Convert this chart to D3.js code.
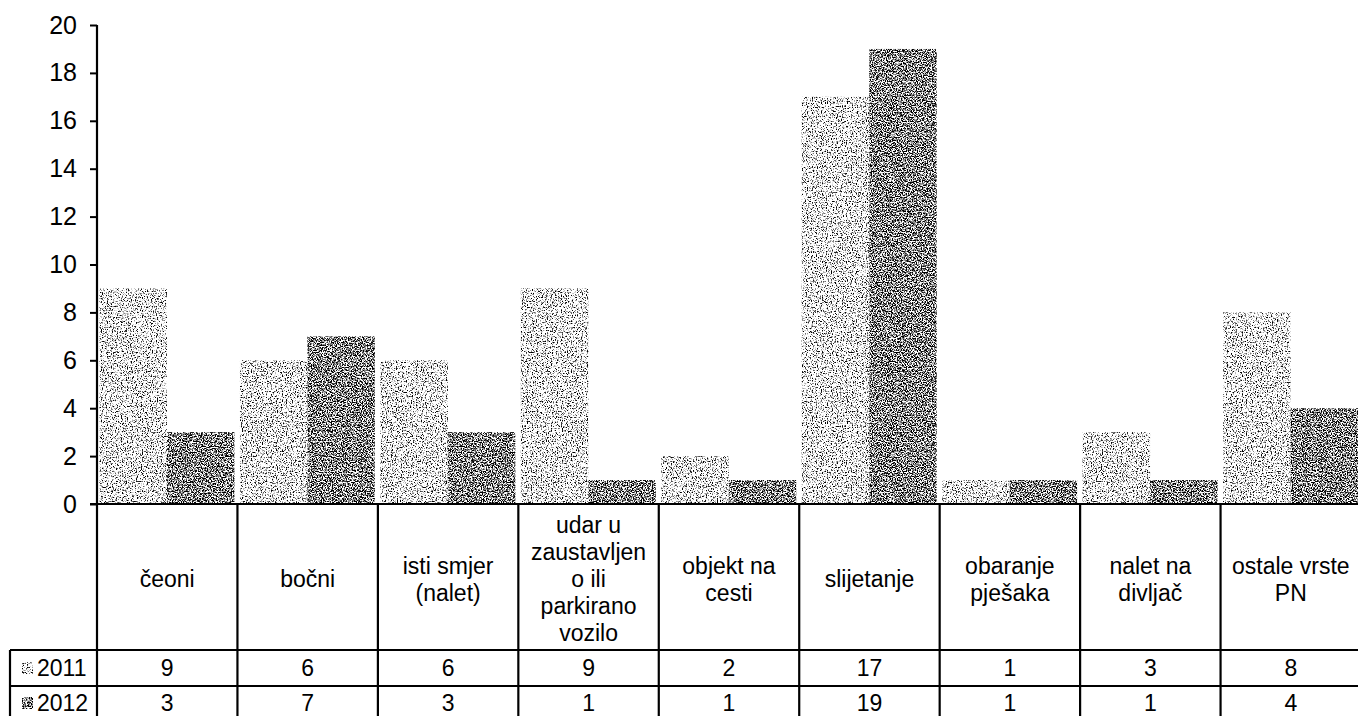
<!DOCTYPE html>
<html>
<head>
<meta charset="utf-8">
<script src="https://cdn.jsdelivr.net/npm/d3@7"></script>
<style>
  html, body { margin: 0; padding: 0; background: #fff; }
  svg { display: block; font-family: "Liberation Sans", Arial, sans-serif; }
</style>
</head>
<body>
<svg id="chart" width="1358" height="716"></svg>
<script>
// ---- data ----
const categories = [
  ["čeoni"],
  ["bočni"],
  ["isti smjer", "(nalet)"],
  ["udar u", "zaustavljen", "o ili", "parkirano", "vozilo"],
  ["objekt na", "cesti"],
  ["slijetanje"],
  ["obaranje", "pješaka"],
  ["nalet na", "divljač"],
  ["ostale vrste", "PN"]
];
const seriesNames = ["2011", "2012"];
const values2011 = [9, 6, 6, 9, 2, 17, 1, 3, 8];
const values2012 = [3, 7, 3, 1, 1, 19, 1, 1, 4];
const yTicks = [0, 2, 4, 6, 8, 10, 12, 14, 16, 18, 20];

(function () {
const series = [values2011, values2012];
const catKeys = categories.map((c, i) => "c" + i);

// ---- layout ----
const svg = d3.select("#chart");
const plotLeft = 97, plotRight = 1361, plotTop = 25, zeroY = 504;
const row1 = 650, row2 = 686, plotBottom = 722, legendLeft = 10;

const x0 = d3.scaleBand().domain(catKeys).range([plotLeft, plotRight]).padding(0);
const bw = x0.bandwidth();
const x1 = d3.scaleBand().domain(seriesNames).range([2.5, bw - 3]).padding(0);
const y = d3.scaleLinear().domain([0, 20]).range([zeroY, plotTop]);

// ---- speckle textures ----
const defs = svg.append("defs");
function speckle(id, gain, offset, seed) {
  const f = defs.append("filter").attr("id", id)
    .attr("x", 0).attr("y", 0).attr("width", "100%").attr("height", "100%")
    .attr("color-interpolation-filters", "sRGB");
  f.append("feTurbulence").attr("type", "fractalNoise")
    .attr("baseFrequency", 0.8).attr("numOctaves", 2).attr("seed", seed).attr("result", "n");
  const m = `${gain} 0 0 0 ${offset}  ${gain} 0 0 0 ${offset}  ${gain} 0 0 0 ${offset}  0 0 0 0 1`;
  f.append("feColorMatrix").attr("in", "n").attr("type", "matrix").attr("values", m).attr("result", "g");
  f.append("feComposite").attr("in", "g").attr("in2", "SourceGraphic").attr("operator", "in");
}
speckle("spL", 5, -1.42, 3);
speckle("spD", 5, -1.98, 7);
const fills = { "2011": "#c8c8c8", "2012": "#7a7a7a" };
const filters = { "2011": "url(#spL)", "2012": "url(#spD)" };

// ---- bars ----
const g = svg.append("g");
seriesNames.forEach((s, si) => {
  g.selectAll(".bar" + s)
    .data(series[si])
    .enter().append("rect")
    .attr("class", "bar" + s)
    .attr("x", (d, i) => x0(catKeys[i]) + x1(s))
    .attr("y", d => y(d))
    .attr("width", x1.bandwidth())
    .attr("height", d => zeroY - y(d))
    .attr("fill", fills[s])
    .attr("filter", filters[s]);
});

// ---- y axis ----
const yAxis = d3.axisLeft(y).tickValues(yTicks).tickSize(7).tickPadding(13).tickFormat(d3.format("d"));
const ya = svg.append("g").attr("transform", `translate(${plotLeft},0)`).call(yAxis);
ya.select(".domain").remove();
ya.selectAll(".tick line").attr("stroke", "#000").attr("stroke-width", 2);
ya.selectAll(".tick text").attr("font-size", 25).attr("fill", "#000")
  .attr("font-family", "Liberation Sans, Arial, sans-serif");

// ---- table lines ----
const L = svg.append("g").attr("stroke", "#000").attr("stroke-width", 2.2);
L.append("line").attr("x1", plotLeft).attr("x2", plotLeft).attr("y1", plotTop).attr("y2", plotBottom);
L.append("line").attr("x1", plotLeft - 7).attr("x2", plotRight).attr("y1", zeroY).attr("y2", zeroY);
L.append("line").attr("x1", legendLeft).attr("x2", plotRight).attr("y1", row1).attr("y2", row1);
L.append("line").attr("x1", legendLeft).attr("x2", plotRight).attr("y1", row2).attr("y2", row2);
L.append("line").attr("x1", legendLeft).attr("x2", legendLeft).attr("y1", row1).attr("y2", plotBottom);
catKeys.forEach(k => {
  const xe = x0(k) + bw;
  L.append("line").attr("x1", xe).attr("x2", xe).attr("y1", zeroY).attr("y2", plotBottom);
});

// ---- category labels ----
const lineH = 27;
const catMid = (zeroY + row1) / 2 + 2;
categories.forEach((lines, i) => {
  const cx = x0(catKeys[i]) + bw / 2;
  const t = svg.append("text").attr("text-anchor", "middle").attr("font-size", 23).attr("fill", "#000");
  const startY = catMid - (lines.length - 1) * lineH / 2;
  lines.forEach((ln, j) => {
    t.append("tspan").attr("x", cx).attr("y", startY + j * lineH).attr("dy", "0.35em").text(ln);
  });
});

// ---- data table values + legend ----
const rowsY = [(row1 + row2) / 2, (row2 + plotBottom) / 2 - 1];
seriesNames.forEach((s, si) => {
  svg.append("g").selectAll("text")
    .data(series[si])
    .enter().append("text")
    .attr("x", (d, i) => x0(catKeys[i]) + bw / 2)
    .attr("y", rowsY[si])
    .attr("dy", "0.35em")
    .attr("text-anchor", "middle")
    .attr("font-size", 23)
    .attr("fill", "#000")
    .text(d => d);
  svg.append("rect")
    .attr("x", 22).attr("y", rowsY[si] - 6)
    .attr("width", 11).attr("height", 12)
    .attr("fill", fills[s]).attr("filter", filters[s]);
  svg.append("text")
    .attr("x", 37).attr("y", rowsY[si]).attr("dy", "0.35em")
    .attr("font-size", 23).attr("fill", "#000")
    .text(s);
});
})();
</script>
</body>
</html>
